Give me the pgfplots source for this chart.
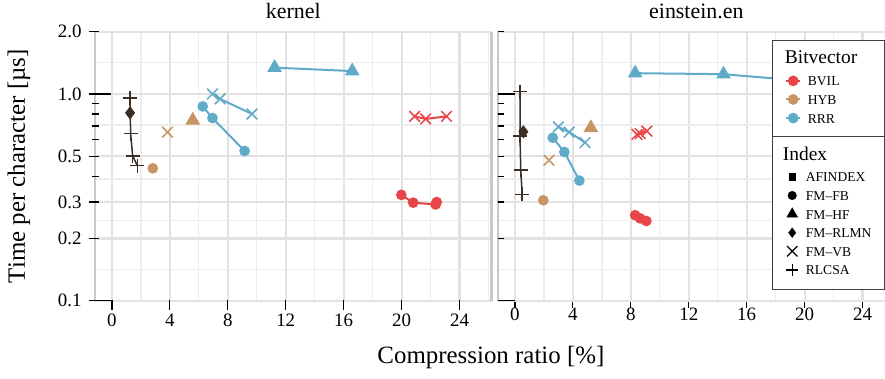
\documentclass[border=0pt]{standalone}
\usepackage{fontspec}
\setmainfont{Liberation Serif}
\usepackage{pgfplots}
\pgfplotsset{compat=1.18}

\definecolor{cbvil}{HTML}{E84548}
\definecolor{chyb}{HTML}{C79464}
\definecolor{crrr}{HTML}{5FABC8}
\definecolor{cdark}{HTML}{3A2E25}
\definecolor{gmaj}{HTML}{E2E2E2}
\definecolor{gmin}{HTML}{EDEDED}
\definecolor{gframe}{HTML}{C8C8C8}

\pgfplotsset{
  gridaxis/.style={axis line style={draw=none},
    xtick={0,4,...,24}, minor xtick={2,6,...,26},
    ytick={0.1,0.2,0.3,0.5,1,2}, minor ytick={0.1414,0.2449,0.3873,0.7071,1.4142},
    grid=both, major grid style={gmaj, line width=2.2bp}, minor grid style={gmin, line width=1.3bp},
    major tick length=0pt, minor tick length=0pt, xticklabels={}, yticklabels={}},
  dataaxis/.style={axis line style={draw=none}, tick pos=left,
    tick style={black, line width=1.2bp},
    xtick={0,4,...,24}, ytick={0.1,0.2,0.3,0.5,1,2}, minor ytick={0.4,0.6,0.7,0.8,0.9},
    extra y ticks={0.1,1}, extra y tick labels={},
    /pgf/number format/assume math mode=true,
    ticklabel style={font=\fontsize{19}{22}\selectfont},
    every axis plot/.append style={line width=2bp},
    title style={font=\fontsize{22}{26}\selectfont, at={(0.5,1)}, anchor=base, yshift=7bp}},
  circ/.style={mark=*, mark size=4.3bp, mark options={draw=none}},
  tri/.style={mark=triangle*, mark size=6.5bp, mark options={draw=none}},
  xm/.style={mark=x, mark size=7.5bp, mark options={line width=1.5bp}},
  pl/.style={mark=+, mark size=7bp, mark options={line width=1.5bp}, line width=1.5bp},
  dia/.style={mark=diamond*, mark size=5bp, mark options={draw=none}},
}

\begin{document}
\begin{tikzpicture}
% ---------- grids ----------
\begin{axis}[ymode=log, scale only axis, width=396.7bp, height=269bp,
    xmin=-1.17, xmax=26.22, ymin=0.1, ymax=2, clip=false,
    gridaxis, at={(95bp,78.3bp)}, anchor=south west]
  \draw[gframe, line width=2.5bp] (rel axis cs:0,0) -- (rel axis cs:0,1);
  \draw[gframe, line width=2.5bp] (rel axis cs:1,0) -- (rel axis cs:1,1);
\end{axis}
\begin{axis}[ymode=log, scale only axis, width=396.7bp, height=269bp,
    xmin=-1.17, xmax=26.22, ymin=0.1, ymax=2, clip=false,
    gridaxis, at={(498bp,78.3bp)}, anchor=south west]
  \draw[gframe, line width=2.5bp] (rel axis cs:0,0) -- (rel axis cs:0,1);
  \draw[gframe, line width=2.5bp] (rel axis cs:1,0) -- (rel axis cs:1,1);
\end{axis}
% ---------- kernel ----------
\begin{axis}[ymode=log, scale only axis, width=396.7bp, height=269bp,
  xmin=-1.17, xmax=26.22, ymin=0.1, ymax=2, clip=false,
  dataaxis, at={(95bp,78.3bp)}, anchor=south west,
  title={kernel},
  tick align=outside, major tick length=10bp, minor tick length=7bp,
  y tick style={xshift=4bp}, x tick style={yshift=1bp},
  extra y tick style={tick align=inside, major tick length=12bp},
  yticklabels={0.1,0.2,0.3,0.5,1.0,2.0},
  ylabel={Time per character [µs]},
  ylabel style={font=\fontsize{25}{29}\selectfont, at={(axis description cs:-0.192,0.5)}, rotate=0, anchor=center},
  xlabel={Compression ratio [\%]},
  xlabel style={font=\fontsize{25}{29}\selectfont, at={(axis description cs:0.998,-0.232)}, anchor=base},
]
% BVIL
\addplot[cbvil, circ] coordinates {(19.98,0.325) (20.8,0.298) (22.35,0.292) (22.42,0.300)};
\addplot[cbvil, xm] coordinates {(20.9,0.779) (21.66,0.757) (23.1,0.779)};
% HYB
\addplot[chyb, circ] coordinates {(2.82,0.437)};
\addplot[chyb, xm] coordinates {(3.83,0.653)};
\addplot[chyb, tri] coordinates {(5.58,0.746)};
% RRR
\addplot[crrr, tri] coordinates {(11.23,1.34) (16.59,1.29)};
\addplot[crrr, xm] coordinates {(6.94,1.0) (7.47,0.946) (9.67,0.80)};
\addplot[crrr, circ] coordinates {(6.27,0.87) (6.94,0.765) (9.16,0.53)};
% RLCSA / FM-RLMN
\addplot[cdark, pl] coordinates {(1.25,0.954) (1.29,0.642) (1.43,0.502) (1.75,0.45)};
\addplot[cdark, dia] coordinates {(1.25,0.81)};
\end{axis}
% ---------- einstein.en ----------
\begin{axis}[ymode=log, scale only axis, width=396.7bp, height=269bp,
  xmin=-1.17, xmax=26.22, ymin=0.1, ymax=2, clip=false,
  dataaxis, at={(498bp,78.3bp)}, anchor=south west,
  title={einstein.en},
  tick align=inside, major tick length=6bp, minor tick length=6bp,
  x tick style={yshift=-7bp},
  extra y tick style={major tick length=17bp},
  yticklabels={}, xticklabel style={yshift=-4bp},
]
% BVIL
\addplot[cbvil, circ] coordinates {(8.3,0.259) (8.65,0.25) (9.07,0.243)};
\addplot[cbvil, xm] coordinates {(8.42,0.637) (8.65,0.643) (9.11,0.661)};
% HYB
\addplot[chyb, circ] coordinates {(1.96,0.306)};
\addplot[chyb, xm] coordinates {(2.35,0.478)};
\addplot[chyb, tri] coordinates {(5.24,0.686)};
% RRR
\addplot[crrr, tri] coordinates {(8.3,1.26) (14.4,1.246) (20.0,1.155)};
\addplot[crrr, xm] coordinates {(3.0,0.693) (3.74,0.654) (4.84,0.582)};
\addplot[crrr, circ] coordinates {(2.61,0.614) (3.41,0.524) (4.45,0.381)};
% RLCSA / FM-RLMN
\addplot[cdark, pl] coordinates {(0.35,1.026) (0.35,0.625) (0.40,0.429) (0.5,0.327)};
\addplot[cdark, dia] coordinates {(0.58,0.656)};
\end{axis}
% ---------- legend frame ----------
\draw[fill=white, draw=black!75, line width=0.9bp] (772.7bp,90bp) rectangle (884.3bp,339bp);
\draw[draw=black!75, line width=0.9bp] (772.7bp,242.3bp) -- (884.3bp,242.3bp);
% ---------- legends ----------
\begin{axis}[at={(0bp,0bp)}, anchor=south west, scale only axis, width=885bp, height=379bp,
  xmin=0, xmax=885, ymin=0, ymax=379, hide axis,
  legend cell align=left,
  legend style={draw=none, fill=none, inner sep=0pt, row sep=5.6bp,
    at={(axis cs:785,328.7)}, anchor=north west,
    font=\fontsize{13.6}{15}\selectfont,
    nodes={inner sep=0pt, text height=11.5bp, text depth=1.5bp}},
  legend image code/.code={\draw[#1, mark repeat=2, mark phase=2, line width=2bp] plot coordinates {(0bp,0bp) (7bp,0bp) (14bp,0bp)};},
]
\addlegendimage{empty legend}
\addlegendentry[font=\fontsize{19.5}{22}\selectfont, text height=13bp, text depth=5.3bp]{\hspace*{-16.3bp}Bitvector}
\addlegendimage{cbvil, mark=*, mark size=4.3bp, mark options={draw=none}}
\addlegendentry{\hspace*{6.7bp}BVIL}
\addlegendimage{chyb, mark=*, mark size=4.3bp, mark options={draw=none}}
\addlegendentry{\hspace*{6.7bp}HYB}
\addlegendimage{crrr, mark=*, mark size=4.3bp, mark options={draw=none}}
\addlegendentry{\hspace*{6.7bp}RRR}
\end{axis}
\begin{axis}[at={(0bp,0bp)}, anchor=south west, scale only axis, width=885bp, height=379bp,
  xmin=0, xmax=885, ymin=0, ymax=379, hide axis,
  legend cell align=left,
  legend style={draw=none, fill=none, inner sep=0pt, row sep=5.6bp,
    at={(axis cs:785,231.3)}, anchor=north west,
    font=\fontsize{13.6}{15}\selectfont,
    nodes={inner sep=0pt, text height=11.5bp, text depth=1.5bp}},
  legend image code/.code={\path[draw=none, fill=none] (0bp,0bp) (14bp,0bp); \draw[#1, only marks] plot coordinates {(7bp,0bp)};},
]
\addlegendimage{empty legend}
\addlegendentry[font=\fontsize{19.5}{22}\selectfont, text height=13bp, text depth=3.9bp]{\hspace*{-16.3bp}Index}
\addlegendimage{black, mark=square*, mark size=3.4bp, mark options={draw=none}}
\addlegendentry{\hspace*{6.7bp}AFINDEX}
\addlegendimage{black, mark=*, mark size=4.3bp, mark options={draw=none}}
\addlegendentry{\hspace*{6.7bp}FM–FB}
\addlegendimage{black, mark=triangle*, mark size=6.3bp, mark options={draw=none}}
\addlegendentry{\hspace*{6.7bp}FM–HF}
\addlegendimage{black, mark=diamond*, mark size=4.8bp, mark options={draw=none}}
\addlegendentry{\hspace*{6.7bp}FM–RLMN}
\addlegendimage{black, mark=x, mark size=7.3bp, mark options={line width=1.3bp}}
\addlegendentry{\hspace*{6.7bp}FM–VB}
\addlegendimage{black, mark=+, mark size=6bp, mark options={line width=1.3bp}}
\addlegendentry{\hspace*{6.7bp}RLCSA}
\end{axis}
\pgfresetboundingbox
\path[use as bounding box] (0bp,0bp) rectangle (885bp,379bp);
\end{tikzpicture}
\end{document}
